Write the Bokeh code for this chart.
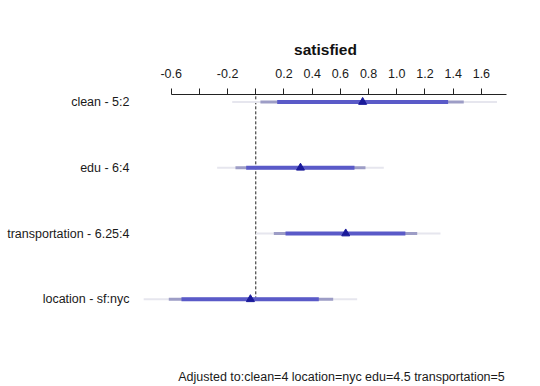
from bokeh.plotting import figure
from bokeh.models import LinearAxis, FixedTicker, Range1d, Label, ColumnDataSource
from bokeh.embed import file_html
from bokeh.resources import INLINE

# ---- data ----
labels = ["clean - 5:2", "edu - 6:4", "transportation - 6.25:4", "location - sf:nyc"]
effect = [0.758, 0.317, 0.638, -0.038]
lo99 = [-0.167, -0.274, 0.000, -0.795]
hi99 = [1.711, 0.908, 1.310, 0.719]
lo95 = [0.033, -0.144, 0.128, -0.617]
hi95 = [1.475, 0.778, 1.145, 0.549]
lo90 = [0.152, -0.068, 0.211, -0.527]
hi90 = [1.364, 0.700, 1.061, 0.447]
x_ticks = [-0.6, -0.4, -0.2, 0.0, 0.2, 0.4, 0.6, 0.8, 1.0, 1.2, 1.4, 1.6]
x_tick_labels = ["-0.6", "", "-0.2", "", "0.2", "0.4", "0.6", "0.8", "1.0", "1.2", "1.4", "1.6"]
title_text = "satisfied"
footer = "Adjusted to:clean=4 location=nyc edu=4.5 transportation=5"

n = len(labels)
ypos = [n - i for i in range(n)]

src = ColumnDataSource(dict(y=ypos, eff=effect, lo99=lo99, hi99=hi99,
                            lo95=lo95, hi95=hi95, lo90=lo90, hi90=hi90))

FONT = "Liberation Sans"

p = figure(width=524, height=386, output_backend="svg", toolbar_location=None,
           x_range=Range1d(-0.853, 1.842), y_range=Range1d(-0.326, 4.115),
           x_axis_location=None, min_border_top=94, min_border_bottom=0,
           min_border_left=135, min_border_right=9)
p.outline_line_color = None
p.xgrid.visible = False
p.ygrid.visible = False
p.background_fill_color = "white"
p.border_fill_color = "white"

# left axis: category labels only
ya = p.yaxis[0]
ya.ticker = FixedTicker(ticks=ypos)
ya.major_label_overrides = {y: lab for y, lab in zip(ypos, labels)}
ya.axis_line_color = None
ya.major_tick_line_color = None
ya.minor_tick_line_color = None
ya.major_label_text_font = FONT
ya.major_label_text_font_size = "12.5px"
ya.major_label_text_color = "#1a1a1a"
ya.major_label_standoff = 0

# top axis
xa = LinearAxis(ticker=FixedTicker(ticks=x_ticks),
                major_label_overrides={t: s for t, s in zip(x_ticks, x_tick_labels)},
                bounds=(-0.6, 1.78))
xa.axis_label = title_text
xa.axis_label_text_font = FONT
xa.axis_label_text_font_style = "bold"
xa.axis_label_text_font_size = "15.5px"
xa.axis_label_text_color = "#111111"
xa.axis_label_standoff = 8
xa.major_label_text_font = FONT
xa.major_label_text_font_size = "12.5px"
xa.major_label_text_color = "#1a1a1a"
xa.major_label_standoff = 11
xa.major_tick_out = 6
xa.major_tick_in = 0
xa.minor_tick_line_color = None
xa.axis_line_color = "#222222"
xa.major_tick_line_color = "#222222"
p.add_layout(xa, "above")

# reference line at zero
p.segment(x0=0, y0=min(ypos), x1=0, y1=p.y_range.end, line_color="#222222",
          line_width=1, line_dash="3 2")

# interval bars
p.segment(x0="lo99", y0="y", x1="hi99", y1="y", source=src, line_color="#e6e6ee", line_width=2)
p.segment(x0="lo95", y0="y", x1="hi95", y1="y", source=src, line_color="#9d9dc6", line_width=3)
p.segment(x0="lo90", y0="y", x1="hi90", y1="y", source=src, line_color="#5a5ac8", line_width=4)

# point estimates
p.scatter(x="eff", y="y", source=src, marker="triangle", size=8,
          fill_color="#1a1a9a", line_color="#1a1a9a")

p.add_layout(Label(x=0.608, y=-0.187, text=footer, text_align="center",
                   text_baseline="middle", text_font=FONT, text_font_size="12.5px",
                   text_color="#1a1a1a"))

open("out.html", "w").write(file_html(p, INLINE))
